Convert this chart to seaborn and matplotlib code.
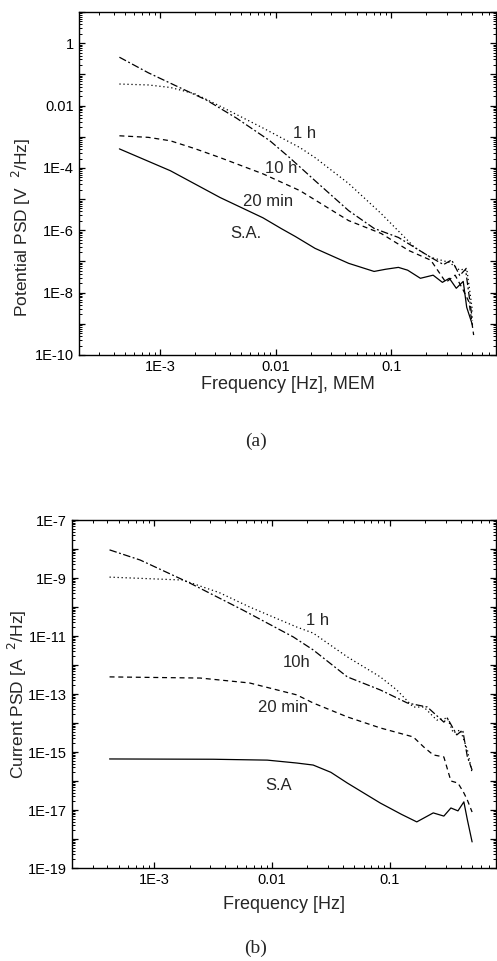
import numpy as np
import pandas as pd
import matplotlib
matplotlib.use("Agg")
import matplotlib.pyplot as plt
import seaborn as sns
from matplotlib.ticker import FixedLocator, FuncFormatter, NullFormatter

# ---------------- data (log10 values) ----------------
# (a) potential PSD, MEM
a_10h_logf = [-3.35, -3.10, -2.82, -2.60, -2.34, -2.05, -1.88, -1.66, -1.37, -1.15, -0.94, -0.80, -0.66, -0.55, -0.48, -0.41, -0.36, -0.30]
a_10h_logp = [-0.45, -0.95, -1.44, -1.82, -2.40, -3.13, -3.67, -4.41, -5.37, -5.94, -6.23, -6.55, -6.87, -7.10, -6.95, -7.45, -7.25, -8.90]

a_1h_logf = [-3.35, -3.10, -2.91, -2.70, -2.48, -2.11, -1.79, -1.66, -1.37, -1.09, -0.80, -0.66, -0.50, -0.41, -0.35, -0.30]
a_1h_logp = [-1.31, -1.34, -1.42, -1.62, -2.02, -2.72, -3.35, -3.67, -4.50, -5.46, -6.55, -6.87, -7.03, -7.28, -7.22, -8.60]

a_20m_logf = [-3.35, -3.10, -2.91, -2.70, -2.48, -2.11, -1.79, -1.37, -1.09, -0.85, -0.66, -0.53, -0.45, -0.38, -0.33, -0.29]
a_20m_logp = [-2.97, -3.02, -3.13, -3.38, -3.67, -4.19, -4.73, -5.69, -6.10, -6.65, -6.96, -7.67, -7.44, -7.92, -8.30, -9.36]

a_sa_logf = [-3.35, -2.91, -2.48, -2.11, -1.95, -1.83, -1.66, -1.37, -1.15, -1.05, -0.94, -0.86, -0.75, -0.64, -0.56, -0.50, -0.44, -0.38, -0.35, -0.30]
a_sa_logp = [-3.39, -4.09, -4.95, -5.60, -5.95, -6.20, -6.58, -7.06, -7.32, -7.25, -7.19, -7.28, -7.54, -7.44, -7.67, -7.54, -7.86, -7.64, -8.47, -9.04]

# (b) current PSD
b_10h_logf = [-3.38, -3.12, -2.70, -2.25, -1.82, -1.65, -1.36, -1.08, -0.85, -0.68, -0.54, -0.51, -0.43, -0.38, -0.34, -0.30]
b_10h_logp = [-8.03, -8.38, -9.17, -10.10, -11.03, -11.48, -12.41, -12.86, -13.31, -13.45, -13.97, -13.83, -14.41, -14.24, -15.17, -15.62]

b_1h_logf = [-3.38, -2.76, -2.45, -2.19, -1.79, -1.65, -1.36, -1.08, -0.94, -0.80, -0.71, -0.60, -0.51, -0.46, -0.40, -0.34, -0.30]
b_1h_logp = [-8.97, -9.07, -9.50, -10.00, -10.69, -10.90, -11.72, -12.41, -12.86, -13.45, -13.45, -13.90, -13.83, -14.34, -14.24, -14.93, -15.72]

b_20m_logf = [-3.38, -2.61, -2.19, -1.79, -1.65, -1.36, -1.08, -0.80, -0.71, -0.63, -0.54, -0.48, -0.42, -0.37, -0.34, -0.30]
b_20m_logp = [-12.41, -12.45, -12.62, -13.03, -13.31, -13.79, -14.17, -14.48, -14.83, -15.10, -15.17, -16.00, -16.07, -16.41, -16.66, -17.07]

b_sa_logf = [-3.38, -2.50, -2.04, -1.79, -1.65, -1.50, -1.36, -1.08, -0.90, -0.77, -0.63, -0.54, -0.48, -0.42, -0.37, -0.34, -0.30]
b_sa_logp = [-15.24, -15.25, -15.28, -15.38, -15.45, -15.70, -16.07, -16.76, -17.15, -17.41, -17.10, -17.21, -16.93, -17.03, -16.72, -17.34, -18.10]

series_names = ["10 h", "1 h", "20 min", "S.A."]
a_labels = ["1 h", "10 h", "20 min", "S.A."]
a_label_logf = [-1.75, -1.95, -2.07, -2.26]
a_label_logp = [-2.91, -4.03, -5.08, -6.10]
b_labels = ["1 h", "10h", "20 min", "S.A"]
b_label_logf = [-1.61, -1.79, -1.91, -1.94]
b_label_logp = [-10.45, -11.93, -13.45, -16.14]

a_yticks_exp = list(range(1, -11, -1))
b_yticks_exp = list(range(-7, -20, -1))
x_ticks_exp = [-4, -3, -2, -1, 0]


def make_df(pairs):
    rows = []
    for name, (lf, lp) in zip(series_names, pairs):
        for f, p in zip(lf, lp):
            rows.append({"series": name, "f": 10.0 ** f, "P": 10.0 ** p})
    return pd.DataFrame(rows)


df_a = make_df([(a_10h_logf, a_10h_logp), (a_1h_logf, a_1h_logp),
                (a_20m_logf, a_20m_logp), (a_sa_logf, a_sa_logp)])
df_b = make_df([(b_10h_logf, b_10h_logp), (b_1h_logf, b_1h_logp),
                (b_20m_logf, b_20m_logp), (b_sa_logf, b_sa_logp)])

# ---------------- style ----------------
sns.set_style("ticks")
plt.rcParams["font.family"] = ["Liberation Sans", "DejaVu Sans"]

dash_map = {"10 h": (6, 2, 1.5, 2), "1 h": (1, 2.2), "20 min": (4, 3), "S.A.": ""}

fig = plt.figure(figsize=(4.97, 9.61), dpi=100)
W, H = 497.0, 961.0
ax1 = fig.add_axes([79 / W, 1 - 355 / H, (496 - 79) / W, (355 - 12) / H])
ax2 = fig.add_axes([72 / W, 1 - 868 / H, (496 - 72) / W, (868 - 520) / H])


def fmt_val(v, pos=None):
    e = int(round(np.log10(v)))
    if e == 0:
        return "1"
    if e == -1:
        return "0.1"
    if e == -2:
        return "0.01"
    return "1E%d" % e


def style_axes(ax, df, ylim, yexp, labeled_parity, labels, lf, lp, xlabel, ylabel, ylab_pos, xlab_pos):
    ax.set_xscale("log")
    ax.set_yscale("log")
    sns.lineplot(data=df, x="f", y="P", style="series", dashes=dash_map,
                 color="black", linewidth=0.9, estimator=None, sort=False,
                 legend=False, ax=ax)
    ax.set_xlim(2e-4, 0.8)
    ax.set_ylim(*ylim)
    ax.xaxis.set_major_locator(FixedLocator([10.0 ** e for e in x_ticks_exp]))
    ax.xaxis.set_major_formatter(FuncFormatter(fmt_val))
    xminor = [m * 10.0 ** e for e in range(-4, 1) for m in range(2, 10)]
    ax.xaxis.set_minor_locator(FixedLocator(xminor))
    ax.xaxis.set_minor_formatter(NullFormatter())
    ax.yaxis.set_major_locator(FixedLocator([10.0 ** e for e in yexp]))
    ax.yaxis.set_major_formatter(FuncFormatter(
        lambda v, pos: fmt_val(v) if int(round(np.log10(v))) % 2 == labeled_parity else ""))
    yminor = [m * 10.0 ** e for e in range(min(yexp) - 1, max(yexp) + 1) for m in range(2, 10)]
    ax.yaxis.set_minor_locator(FixedLocator(yminor))
    ax.yaxis.set_minor_formatter(NullFormatter())
    ax.tick_params(which="both", direction="in", top=True, right=True, colors="black",
                   labelsize=10.5)
    ax.tick_params(which="major", length=4.5, width=0.9)
    ax.tick_params(which="minor", length=2.2, width=0.7)
    for s in ax.spines.values():
        s.set_color("black")
        s.set_linewidth(1.0)
    for t, x, y in zip(labels, lf, lp):
        ax.text(10.0 ** x, 10.0 ** y, t, ha="center", va="center", fontsize=12)
    ax.set_xlabel(xlabel, fontsize=13)
    ax.set_ylabel(ylabel, fontsize=12.5)
    ax.xaxis.label.set_va("center")
    ax.yaxis.label.set_va("center")
    ax.xaxis.set_label_coords(0.5, xlab_pos)
    ax.yaxis.set_label_coords(ylab_pos[0], ylab_pos[1])


style_axes(ax1, df_a, (1e-10, 10.0), a_yticks_exp, 0, a_labels, a_label_logf, a_label_logp,
           "Frequency [Hz], MEM", "Potential PSD [V  $^{2}$/Hz]", (-0.137, 0.373), -0.087)
style_axes(ax2, df_b, (1e-19, 1e-7), b_yticks_exp, 1, b_labels, b_label_logf, b_label_logp,
           "Frequency [Hz]", "Current PSD [A  $^{2}$/Hz]", (-0.128, 0.5), -0.106)

fig.text(256 / W, 1 - 441 / H, "(a)", ha="center", va="center", fontsize=14,
         family=["Liberation Serif", "DejaVu Serif"])
fig.text(256 / W, 1 - 948 / H, "(b)", ha="center", va="center", fontsize=14,
         family=["Liberation Serif", "DejaVu Serif"])

fig.savefig("out.png", dpi=100)
